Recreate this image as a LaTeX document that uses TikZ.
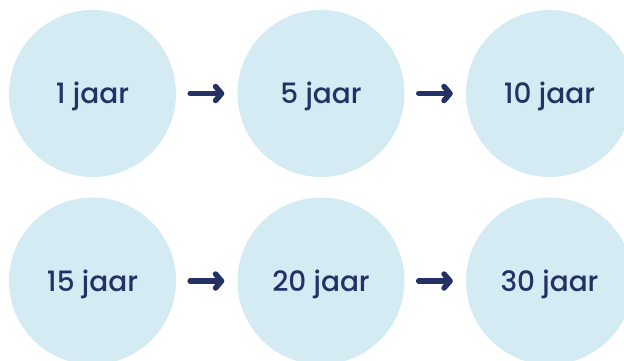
\documentclass[tikz,border=0pt]{standalone}
\usepackage{fontspec}
\setmainfont{Poppins}[UprightFont=* Medium]
\usetikzlibrary{arrows.meta,positioning}
\definecolor{bubble}{HTML}{D5EBF4}
\definecolor{navy}{HTML}{243165}
\tikzset{
  stage/.style={circle,fill=bubble,minimum size=167pt,inner sep=0pt,
    text=navy,font=\fontsize{28}{32}\selectfont,
    text height=20pt,text depth=0pt},
  nextarrow/.style={draw=navy,line width=5.5pt,line cap=round,
    -{Straight Barb[length=6pt,width=14pt,line cap=round,line join=round]},
    shorten <=14pt,shorten >=13pt}
}
\begin{document}
\begin{tikzpicture}[x=1pt,y=1pt]
\useasboundingbox (0,0) rectangle (624,-360);
\node[stage] (j1)  at (92.5,-93.5) {1 jaar};
\node[stage] (j5)  at (321,-93.5) {5 jaar};
\node[stage] (j10) at (549.5,-93.5) {10 jaar};
\node[stage] (j15) at (92.5,-281) {15 jaar};
\node[stage] (j20) at (321,-281) {20 jaar};
\node[stage] (j30) at (549.5,-281) {30 jaar};
\draw[nextarrow] (j1) -- (j5);
\draw[nextarrow] (j5) -- (j10);
\draw[nextarrow] (j15) -- (j20);
\draw[nextarrow] (j20) -- (j30);
\end{tikzpicture}
\end{document}
